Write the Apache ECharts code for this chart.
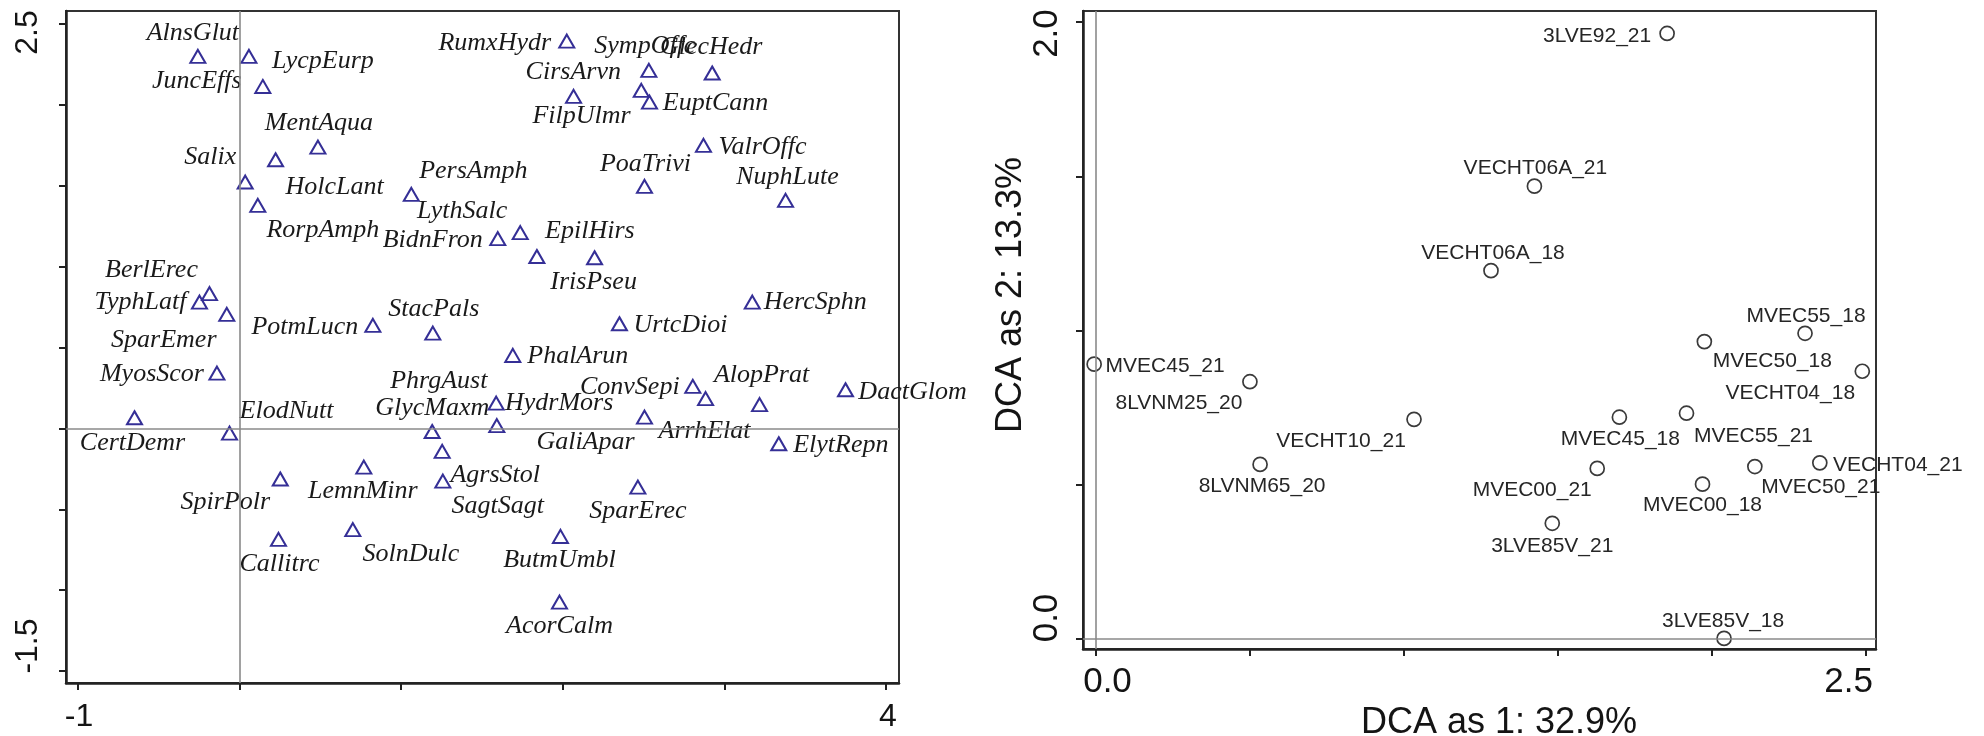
<!DOCTYPE html>
<html>
<head>
<meta charset="utf-8">
<title>DCA ordination – species and samples</title>
<script src="https://cdn.jsdelivr.net/npm/echarts@6/dist/echarts.min.js"></script>
<style>
  html, body { margin: 0; padding: 0; background: #ffffff; }
  #chart { width: 1984px; height: 736px; }
</style>
</head>
<body>
<div id="chart"></div>
<script>
// ---- Species scores (left panel) ----
const speciesNames = [
  'AlnsGlut', 'LycpEurp', 'JuncEffs', 'MentAqua', 'HolcLant', 'Salix', 'RorpAmph', 'PersAmph',
  'BerlErec', 'TyphLatf', 'SparEmer', 'PotmLucn', 'StacPals', 'MyosScor', 'CertDemr', 'ElodNutt',
  'SpirPolr', 'LemnMinr', 'Callitrc', 'SolnDulc', 'GlycMaxm', 'AgrsStol', 'SagtSagt', 'HydrMors',
  'PhrgAust', 'RumxHydr', 'SympOffc', 'GlecHedr', 'FilpUlmr', 'CirsArvn', 'EuptCann', 'ValrOffc',
  'PoaTrivi', 'NuphLute', 'BidnFron', 'LythSalc', 'EpilHirs', 'IrisPseu', 'HercSphn', 'UrtcDioi',
  'PhalArun', 'ConvSepi', 'ArrhElat', 'AlopPrat', 'DactGlom', 'GaliApar', 'ElytRepn', 'SparErec',
  'ButmUmbl', 'AcorCalm'
];
const speciesAxis1 = [
  -0.258, 0.058, 0.144, 0.485, 0.223, 0.035, 0.113, 1.063,
  -0.186, -0.248, -0.079, 0.825, 1.196, -0.140, -0.650, -0.062,
  0.252, 0.769, 0.241, 0.701, 1.192, 1.254, 1.258, 1.588,
  1.592, 2.025, 2.533, 2.925, 2.067, 2.486, 2.537, 2.871,
  2.506, 3.379, 1.598, 1.737, 1.840, 2.197, 3.173, 2.351,
  1.691, 2.805, 2.884, 3.218, 3.750, 2.506, 3.337, 2.465,
  1.986, 1.980
];
const speciesAxis2 = [
  2.300, 2.300, 2.114, 1.739, 1.661, 1.523, 1.379, 1.447,
  0.833, 0.781, 0.705, 0.637, 0.589, 0.342, 0.066, -0.029,
  -0.313, -0.239, -0.686, -0.626, -0.019, -0.142, -0.326, 0.156,
  0.017, 2.394, 2.213, 2.197, 2.053, 2.090, 2.017, 1.750,
  1.496, 1.410, 1.173, 1.210, 1.063, 1.055, 0.781, 0.647,
  0.451, 0.260, 0.184, 0.147, 0.239, 0.070, -0.095, -0.363,
  -0.668, -1.074
];

// ---- Sample scores (right panel) ----
const sampleNames = [
  '3LVE92_21', 'VECHT06A_21', 'VECHT06A_18', 'MVEC55_18', 'MVEC50_18', 'VECHT04_18',
  'MVEC45_21', '8LVNM25_20', 'VECHT10_21', '8LVNM65_20', 'MVEC45_18', 'MVEC55_21',
  'MVEC00_21', 'MVEC00_18', 'MVEC50_21', 'VECHT04_21', '3LVE85V_21', '3LVE85V_18'
];
const sampleAxis1 = [
  1.855, 1.424, 1.283, 2.303, 1.976, 2.489,
  -0.006, 0.500, 1.033, 0.533, 1.700, 1.918,
  1.628, 1.970, 2.140, 2.351, 1.482, 2.040
];
const sampleAxis2 = [
  1.963, 1.468, 1.194, 0.991, 0.964, 0.868,
  0.891, 0.834, 0.712, 0.566, 0.719, 0.732,
  0.553, 0.502, 0.559, 0.571, 0.375, 0.002
];

// ---- Axis ticks and tick labels ----
const speciesXTicks = [-1, 0, 1, 2, 3, 4];
const speciesXLabelValues = [-1, 4];
const speciesXLabelText = ['-1', '4'];
const speciesYTicks = [-1.5, -1, -0.5, 0, 0.5, 1, 1.5, 2, 2.5];
const speciesYLabelValues = [-1.5, 2.5];
const speciesYLabelText = ['-1.5', '2.5'];

const sampleXTicks = [0, 0.5, 1, 1.5, 2, 2.5];
const sampleXLabelValues = [0, 2.5];
const sampleXLabelText = ['0.0', '2.5'];
const sampleYTicks = [0, 0.5, 1, 1.5, 2];
const sampleYLabelValues = [0, 2];
const sampleYLabelText = ['0.0', '2.0'];

const sampleXTitle = 'DCA as 1: 32.9%';
const sampleYTitle = 'DCA as 2: 13.3%';

// ---- Label placement (pixel shift of each name from its symbol centre) ----
const speciesLabelShift = [
  [-5, -23], [74, 5], [-66, -5], [1, -24], [59, 27], [-35, -25], [65, 25], [62, -23],
  [-58, -23], [-59, 0], [-63, 26], [-68, 2], [1, -24], [-65, 1], [-2, 25], [57, -22],
  [-55, 23], [-1, 24], [1, 25], [58, 25], [0, -23], [53, 24], [55, 25], [63, 0],
  [-58, -44], [-72, 2], [-4, -24], [-1, -26], [8, 20], [-68, -18], [66, 1], [59, 2],
  [1, -22], [2, -23], [-65, 2], [-58, -22], [53, -25], [-1, 24], [63, 0], [61, 1],
  [65, 1], [-63, 1], [-1, 33], [2, -29], [67, 2], [-59, 25], [62, 1], [0, 24],
  [-1, 24], [0, 24]
];
const sampleLabelShift = [
  [-70, 3], [1, -18], [2, -17], [1, -17], [68, 20], [-72, 22],
  [71, 2], [-71, 21], [-73, 22], [2, 22], [1, 22], [67, 23],
  [-65, 22], [0, 21], [66, 21], [78, 2], [0, 23], [-1, -17]
];

const SANS = '"Liberation Sans", Arial, sans-serif';
const SERIF = '"Liberation Serif", "Times New Roman", serif';
const INK = '#141414';

function pickLabel(values, texts) {
  return function (v) {
    for (let i = 0; i < values.length; i++) {
      if (Math.abs(values[i] - v) < 1e-9) {
        return '{' + (i === 0 ? 'lo' : 'hi') + '|' + texts[i] + '}';
      }
    }
    return '';
  };
}

function richPair(size, loPad, hiPad) {
  const base = { fontSize: size, fontFamily: SANS, color: INK };
  return {
    lo: Object.assign({ padding: loPad }, base),
    hi: Object.assign({ padding: hiPad }, base)
  };
}

function valueAxis(opts) {
  return Object.assign({
    type: 'value',
    scale: true,
    splitLine: { show: false },
    axisLine: { show: true, onZero: false, lineStyle: { color: '#222', width: 2.5 } },
    axisTick: { show: true, length: 7, lineStyle: { color: '#222', width: 2 } }
  }, opts);
}

function buildPoints(names, xs, ys, shifts) {
  return names.map(function (n, i) {
    return { name: n, value: [xs[i], ys[i]], label: { offset: shifts[i] } };
  });
}

const zeroLines = {
  silent: true,
  animation: false,
  symbol: ['none', 'none'],
  label: { show: false },
  lineStyle: { color: '#8a8a8a', width: 1.6, type: 'solid' },
  data: [{ xAxis: 0 }, { yAxis: 0 }]
};

const chart = echarts.init(document.getElementById('chart'), null, { renderer: 'canvas' });

chart.setOption({
  animation: false,
  backgroundColor: '#ffffff',
  grid: [
    { left: 66, top: 11, width: 833, height: 672, show: true, borderColor: '#333', borderWidth: 2, outerBoundsMode: 'none' },
    { left: 1083, top: 11, width: 793, height: 638, show: true, borderColor: '#333', borderWidth: 2, outerBoundsMode: 'none' }
  ],
  xAxis: [
    valueAxis({
      gridIndex: 0, min: -1.074, max: 4.081,
      axisTick: { show: true, length: 7, customValues: speciesXTicks, lineStyle: { color: '#222', width: 2 } },
      axisLabel: {
        customValues: speciesXLabelValues, margin: 18,
        formatter: pickLabel(speciesXLabelValues, speciesXLabelText),
        rich: richPair(32, [0, 0, 0, 2], [0, 0, 0, 4])
      }
    }),
    valueAxis({
      gridIndex: 1, min: -0.0422, max: 2.5335,
      axisTick: { show: true, length: 7, customValues: sampleXTicks, lineStyle: { color: '#222', width: 2 } },
      axisLabel: {
        customValues: sampleXLabelValues, margin: 16,
        formatter: pickLabel(sampleXLabelValues, sampleXLabelText),
        rich: richPair(35, [0, 0, 0, 23], [0, 34, 0, 0])
      },
      name: sampleXTitle, nameLocation: 'middle', nameGap: 47,
      nameTextStyle: { fontSize: 36, fontFamily: SANS, color: INK, padding: [0, 0, 0, 39] }
    })
  ],
  yAxis: [
    valueAxis({
      gridIndex: 0, min: -1.574, max: 2.5805,
      axisTick: { show: true, length: 7, customValues: speciesYTicks, lineStyle: { color: '#222', width: 2 } },
      axisLabel: {
        customValues: speciesYLabelValues, rotate: 90, margin: 22,
        formatter: pickLabel(speciesYLabelValues, speciesYLabelText),
        rich: richPair(32, [0, 0, 0, 50], [0, 17, 0, 0])
      }
    }),
    valueAxis({
      gridIndex: 1, min: -0.0324, max: 2.0357,
      axisTick: { show: true, length: 7, customValues: sampleYTicks, lineStyle: { color: '#222', width: 2 } },
      axisLabel: {
        customValues: sampleYLabelValues, rotate: 90, margin: 18,
        formatter: pickLabel(sampleYLabelValues, sampleYLabelText),
        rich: richPair(35, [0, 0, 0, 42], [0, 23, 0, 0])
      },
      name: sampleYTitle, nameLocation: 'middle', nameGap: 46,
      nameTextStyle: { fontSize: 36, fontFamily: SANS, color: INK, padding: [0, 0, 0, 70] }
    })
  ],
  series: [
    {
      type: 'scatter',
      xAxisIndex: 0, yAxisIndex: 0,
      symbol: 'triangle',
      symbolSize: [15, 13],
      itemStyle: { color: 'rgba(255,255,255,0)', borderColor: '#352f96', borderWidth: 2, opacity: 1 },
      label: {
        show: true, position: 'inside', formatter: '{b}',
        fontFamily: SERIF, fontStyle: 'italic', fontSize: 26, color: '#1a1a1a',
        align: 'center', verticalAlign: 'middle'
      },
      emphasis: { disabled: true },
      data: buildPoints(speciesNames, speciesAxis1, speciesAxis2, speciesLabelShift),
      markLine: zeroLines,
      z: 3
    },
    {
      type: 'scatter',
      xAxisIndex: 1, yAxisIndex: 1,
      symbol: 'circle',
      symbolSize: 14,
      itemStyle: { color: 'rgba(255,255,255,0)', borderColor: '#3a3a3a', borderWidth: 1.7, opacity: 1 },
      label: {
        show: true, position: 'inside', formatter: '{b}',
        fontFamily: SANS, fontSize: 21, color: '#262626',
        align: 'center', verticalAlign: 'middle'
      },
      emphasis: { disabled: true },
      data: buildPoints(sampleNames, sampleAxis1, sampleAxis2, sampleLabelShift),
      markLine: zeroLines,
      z: 3
    }
  ]
});
</script>
</body>
</html>
